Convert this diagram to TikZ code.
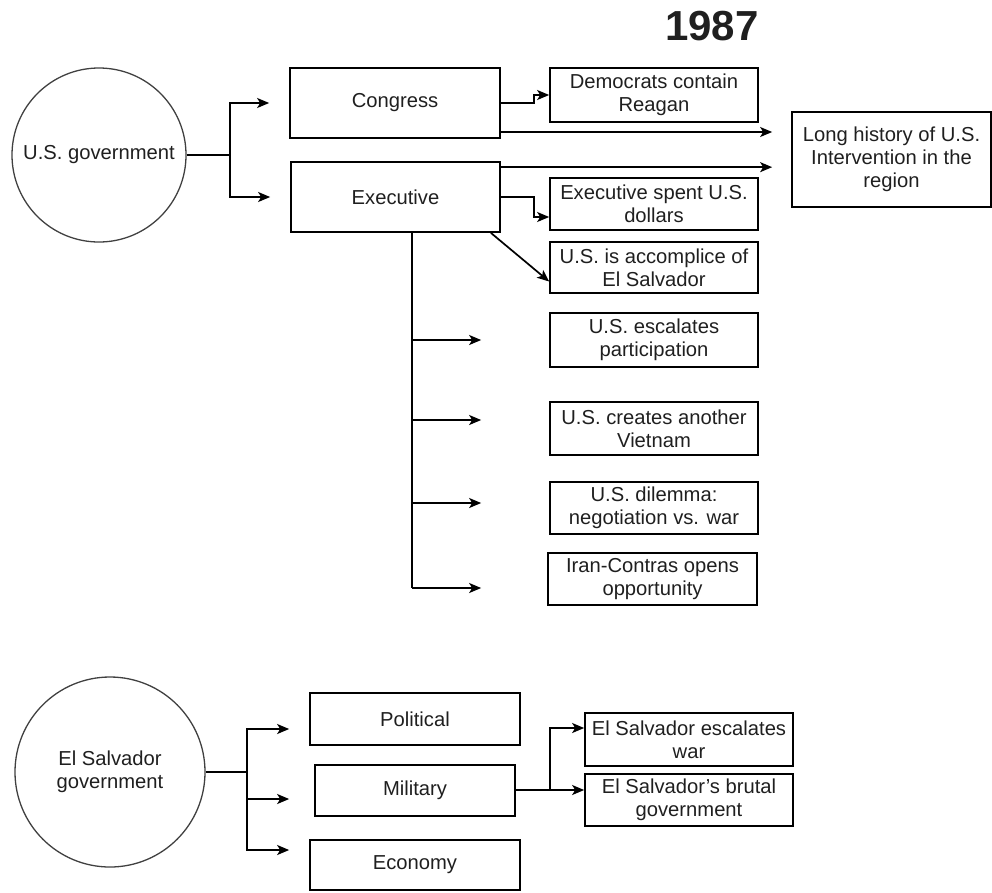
\documentclass[tikz,border=0pt]{standalone}
\usepackage{fontspec}
\setmainfont{Liberation Sans}
\usetikzlibrary{arrows.meta}
\begin{document}
\begin{tikzpicture}[x=1pt,y=-1pt,
  every node/.style={font=\fontsize{20.2}{23}\selectfont, text=black!88, align=center, inner sep=0pt},
  box/.style={draw=black, line width=1.7pt, rectangle},
  gov/.style={draw=black!75, line width=1.3pt, circle},
  link/.style={draw=black, line width=1.7pt},
  arr/.style={link, -{Stealth[length=12pt,width=10pt,inset=3pt]}}]
\useasboundingbox (0,0) rectangle (992,892);

% heading
\node (year) at (712,26) {\fontsize{42}{42}\selectfont\bfseries 1987};

% United States branch
\node[gov, minimum size=174pt] (usg) at (99,155) {U.S. government};
\node[box, minimum width=210pt, minimum height=70pt] (congress) at (395,103) {Congress};
\node[box, minimum width=209pt, minimum height=70pt] (exec) at (395.5,197) {Executive};
\node[box, minimum width=208pt, minimum height=54pt] (dem) at (654,95) {Democrats contain\\Reagan};
\node[box, minimum width=199pt, minimum height=95pt] (hist) at (891.5,159.5) {Long history of U.S.\\Intervention in the\\region};
\node[box, minimum width=208pt, minimum height=52pt] (spent) at (654,204) {Executive spent U.S.\\dollars};
\node[box, minimum width=208pt, minimum height=51pt] (accomp) at (654,267.5) {U.S. is accomplice of\\El Salvador};
\node[box, minimum width=208pt, minimum height=54pt] (esc) at (654,340) {U.S. escalates\\participation};
\node[box, minimum width=208pt, minimum height=53pt] (viet) at (654,428.5) {U.S. creates another\\Vietnam};
\node[box, minimum width=208pt, minimum height=52pt] (dil) at (654,508) {U.S. dilemma:\\negotiation vs. war};
\node[box, minimum width=209pt, minimum height=52pt] (iran) at (652.5,579) {Iran-Contras opens\\opportunity};

\coordinate (usfork) at (230,155);
\draw[link] (usg.east) -- (usfork);
\draw[arr, shorten >=20pt] (usfork) |- (congress.west);
\draw[arr, shorten >=20pt] (usfork) |- (exec.west);

\draw[arr] (congress.east) -- ++(33,0) |- (dem.west);
\draw[arr, shorten >=19pt] ([yshift=-29pt]congress.east) -- ([yshift=-29pt]congress.east -| hist.west);
\draw[arr, shorten >=19pt] ([yshift=-6pt]exec.north east) -- ([yshift=-6pt]exec.north east -| hist.west);
\draw[arr] (exec.east) -- ++(33,0) |- ([yshift=-13pt]spent.west);
\draw[arr] ([xshift=-10pt]exec.south east) -- ([yshift=-14pt]accomp.west);

% vertical trunk under the executive box
\coordinate (trunk) at (412,588);
\coordinate (vietin) at ([yshift=8.5pt]viet.west);
\coordinate (dilin) at ([yshift=5pt]dil.west);
\draw[link] (exec.south -| trunk) -- (trunk);
\draw[arr, shorten >=68pt] (trunk |- esc.west) -- (esc.west);
\draw[arr, shorten >=68pt] (trunk |- vietin) -- (vietin);
\draw[arr, shorten >=68pt] (trunk |- dilin) -- (dilin);
\draw[arr, shorten >=66pt] (trunk) -- (trunk -| iran.west);

% El Salvador branch
\node[gov, minimum size=190pt] (esg) at (110,772) {El Salvador\\government};
\node[box, minimum width=210pt, minimum height=52pt] (pol) at (415,719) {Political};
\node[box, minimum width=200pt, minimum height=51pt] (mil) at (415,790.5) {Military};
\node[box, minimum width=210pt, minimum height=50pt] (eco) at (415,865) {Economy};
\node[box, minimum width=208pt, minimum height=53pt] (esw) at (689,739.5) {El Salvador escalates\\war};
\node[box, minimum width=208pt, minimum height=52pt] (brut) at (689,800) {El Salvador's brutal\\government};

\coordinate (esfork) at (247,772);
\draw[link] (esg.east) -- (esfork);
\draw[arr, shorten >=20pt] (esfork) |- ([yshift=-10pt]pol.west);
\draw[arr, shorten >=25pt] (esfork) |- ([yshift=-8.5pt]mil.west);
\draw[arr, shorten >=20pt] (esfork) |- ([yshift=15pt]eco.west);

\coordinate (milfork) at (550,790);
\draw[arr] (mil.east |- milfork) -- ([yshift=10pt]brut.west);
\draw[arr] (milfork) |- ([yshift=11.5pt]esw.west);
\end{tikzpicture}
\end{document}
